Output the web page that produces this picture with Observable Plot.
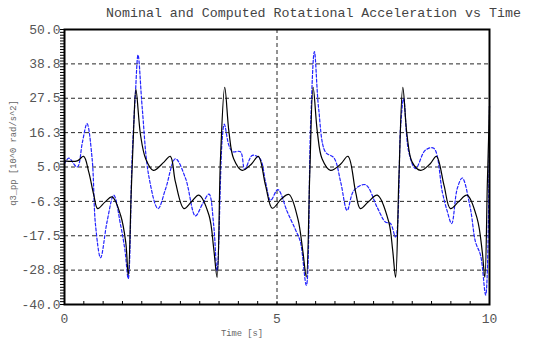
<!DOCTYPE html>
<html><head><meta charset="utf-8">
<script src="https://cdn.jsdelivr.net/npm/d3@7"></script>
<script src="https://cdn.jsdelivr.net/npm/@observablehq/plot@0.6"></script>
<style>body{margin:0;background:#fff} #chart{width:538px;height:340px}</style>
</head><body><div id="chart"></div>
<script>
const title = "Nominal and Computed Rotational Acceleration vs Time";
const xLabel = "Time [s]";
const yLabel = "q3_pp [10^0 rad/s^2]";
const yTickValues = [-40, -28.75, -17.5, -6.25, 5, 16.25, 27.5, 38.75, 50];
const yTickLabels = ["-40.0", "-28.8", "-17.5", "-6.3", "5.0", "16.3", "27.5", "38.8", "50.0"];
const xTickValues = [0, 5, 10];
const xTickLabels = ["0", "5", "10"];

// Computed (black solid)
const computedT = [0, 0.3, 0.45, 0.57, 0.69, 0.78, 0.95, 1.12, 1.32, 1.44, 1.5, 1.57, 1.63, 1.68, 1.79, 1.91, 2.09, 2.34, 2.49, 2.61, 2.81, 2.98, 3.16, 3.4, 3.51, 3.59, 3.67, 3.77, 3.87, 3.98, 4.18, 4.4, 4.56, 4.73, 4.89, 5.1, 5.28, 5.49, 5.61, 5.69, 5.77, 5.85, 5.95, 6.06, 6.26, 6.5, 6.67, 6.85, 6.96, 7.15, 7.36, 7.63, 7.72, 7.79, 7.87, 7.96, 8.06, 8.18, 8.38, 8.6, 8.75, 8.93, 9.08, 9.27, 9.47, 9.71, 9.83, 9.89, 9.95, 10];
const computedV = [7, 7, 8.5, 3.4, -4.2, -8.6, -6.5, -4.8, -10.8, -19.5, -30.4, -3.2, 18.6, 30.4, 15.4, 7.7, 3.9, 6.6, 8.5, 0.1, -8.6, -6.5, -4.2, -10.8, -21.6, -31.1, 7.7, 31.1, 16.4, 7.7, 3.9, 6.0, 8.5, -1, -8.5, -5.5, -4.0, -11.9, -22.8, -31, 2.3, 31.1, 16.4, 7.7, 3.9, 6.0, 8.5, -3.2, -8.6, -6.4, -4.2, -13, -22, -31.1, 2.3, 31.1, 15.4, 6.6, 3.9, 6.0, 8.5, -1, -8.6, -6.4, -4.2, -11.9, -22.8, -31.1, 0, 25];

// Nominal (blue dashed)
const nominalT = [0, 0.1, 0.3, 0.42, 0.53, 0.65, 0.73, 0.85, 1.0, 1.16, 1.32, 1.42, 1.5, 1.59, 1.67, 1.73, 1.83, 1.98, 2.2, 2.38, 2.61, 2.85, 3.08, 3.25, 3.4, 3.51, 3.59, 3.71, 3.76, 3.87, 3.96, 4.14, 4.24, 4.42, 4.6, 4.73, 4.85, 5.02, 5.24, 5.44, 5.55, 5.69, 5.79, 5.88, 5.98, 6.14, 6.34, 6.5, 6.65, 6.81, 7.08, 7.36, 7.55, 7.67, 7.79, 7.91, 7.98, 8.1, 8.26, 8.49, 8.69, 8.89, 9.0, 9.11, 9.24, 9.36, 9.55, 9.67, 9.79, 9.91, 10];
const nominalV = [6, 7.9, 5, 13, 19.2, 7.7, -14, -24.7, -13, -4.2, -14, -22, -31.5, 7.7, 29.5, 41.7, 24.1, 2.3, -8.6, -2.1, 7.7, 1.2, -11, -7, -3.9, -14, -29, 14, 19, 12, 10, 10, 4.3, 8.8, 7.7, 0.1, -5.9, -2.4, -9.6, -15.7, -19.5, -33.7, 18.6, 42.8, 24.1, 9.9, 8, 0, -9.2, -2.7, -0.8, -8.3, -13, -13.5, -17.9, 18.6, 27.4, 9.9, 4.5, 10.5, 11.1, -3.2, -9.2, -13.5, -2.1, 1.4, -8.6, -19.5, -23.9, -36.9, 25];

const computed = computedT.map((t, i) => ({t, v: computedV[i]}));
const nominal = nominalT.map((t, i) => ({t, v: nominalV[i]}));

const yMinor = d3.range(0, 97).map(k => -40 + k * 11.25 / 12);
const xMinor = d3.range(0, 23).map(k => k * 5 / 11);

const font = "'Liberation Mono', 'Courier New', monospace";

const plot = Plot.plot({
  width: 538, height: 340,
  marginLeft: 64, marginRight: 49, marginTop: 29, marginBottom: 36,
  x: {domain: [0, 10]},
  y: {domain: [-40, 50]},
  style: {fontFamily: font, background: "#fff"},
  marks: [
    Plot.ruleY(yTickValues.slice(1, -1), {stroke: "#000", strokeDasharray: "4,3", strokeOpacity: 0.85}),
    Plot.ruleX([5], {stroke: "#000", strokeDasharray: "4,3", strokeOpacity: 0.85}),
    Plot.line(nominal, {x: "t", y: "v", stroke: "#2222ff", strokeDasharray: "3,2", strokeWidth: 1.2, curve: "catmull-rom"}),
    Plot.line(computed, {x: "t", y: "v", stroke: "#000", strokeWidth: 1.2, curve: "catmull-rom"}),
    Plot.frame({stroke: "#000", strokeWidth: 2}),
    Plot.axisY(yMinor, {tickSize: 4, text: null, label: null, stroke: "#000"}),
    Plot.axisY(yTickValues, {tickSize: 0, tickPadding: 4, tickFormat: d => yTickLabels[yTickValues.indexOf(d)], fontSize: 13, fill: "#555", label: null}),
    Plot.axisX(xMinor, {tickSize: -3, text: null, label: null, stroke: "#000"}),
    Plot.axisX(xTickValues, {tickSize: 0, tickPadding: 9, tickFormat: d => xTickLabels[xTickValues.indexOf(d)], fontSize: 13, fill: "#555", label: null})
  ]
});

document.getElementById("chart").appendChild(plot);
const svg = d3.select(plot);
svg.append("text").attr("x", 106).attr("y", 17).attr("text-anchor", "start")
  .attr("font-family", font).attr("font-size", 13.3).attr("fill", "#444").text(title);
svg.append("text").attr("x", 242).attr("y", 336).attr("text-anchor", "middle")
  .attr("font-family", font).attr("font-size", 8.8).attr("fill", "#666").text(xLabel);
svg.append("text").attr("transform", "translate(16,153) rotate(-90)").attr("text-anchor", "middle")
  .attr("font-family", font).attr("font-size", 8.8).attr("fill", "#666").text(yLabel);
</script>
</body></html>
